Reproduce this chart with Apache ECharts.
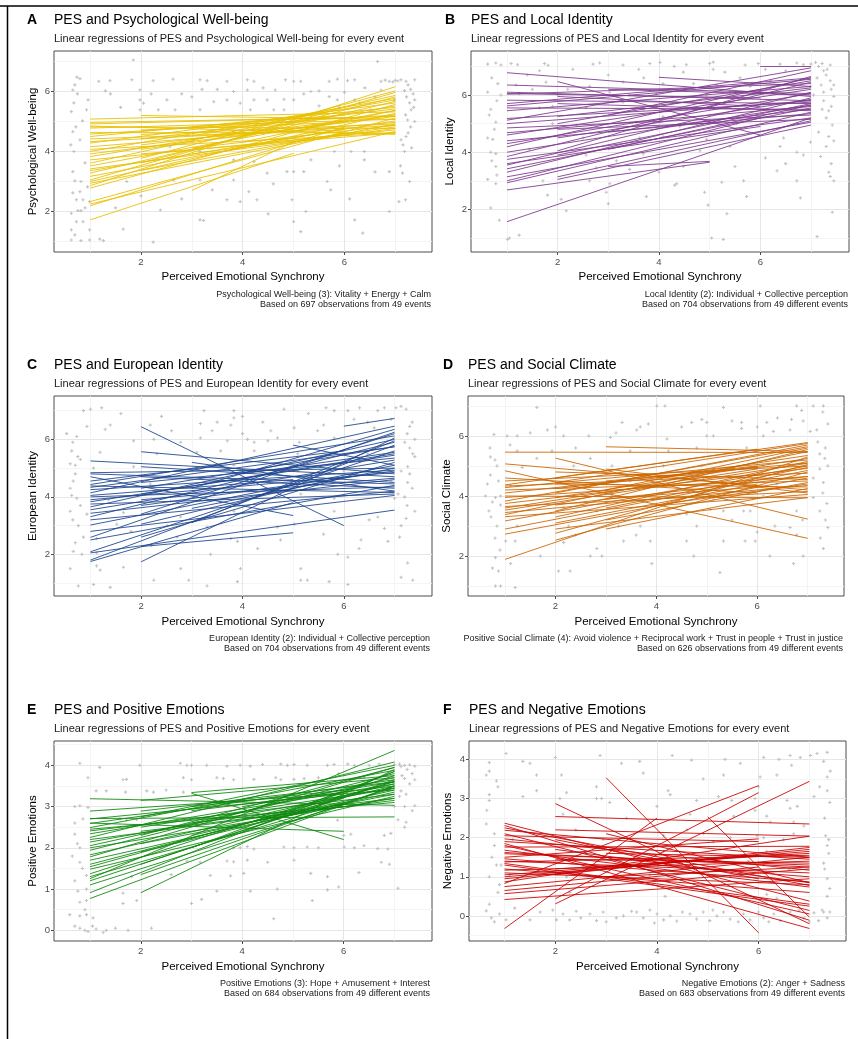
<!DOCTYPE html>
<html><head><meta charset="utf-8">
<script src="https://cdn.jsdelivr.net/npm/echarts@6/dist/echarts.min.js"></script>
<style>html,body{margin:0;padding:0;background:#fff}#c{width:858px;height:1039px}</style>
</head><body><div id="c"></div>
<script>
// ---------- tick values ----------
const xTicks = [2, 4, 6];
const xMinor = [1, 3, 5, 7];
const yTicks7 = [2, 4, 6];
const yMinor7 = [1, 3, 5, 7];
const yTicks4 = [0, 1, 2, 3, 4];
const yMinorE = [0.5, 1.5, 2.5, 3.5, 4.5];
const yMinorF = [-0.5, 0.5, 1.5, 2.5, 3.5];

// ---------- texts ----------
const letters = ['A', 'B', 'C', 'D', 'E', 'F'];
const titles = ['PES and Psychological Well-being', 'PES and Local Identity', 'PES and European Identity',
  'PES and Social Climate', 'PES and Positive Emotions', 'PES and Negative Emotions'];
const subtitles = ['Linear regressions of PES and Psychological Well-being for every event',
  'Linear regressions of PES and Local Identity for every event',
  'Linear regressions of PES and European Identity for every event',
  'Linear regressions of PES and Social Climate for every event',
  'Linear regressions of PES and Positive Emotions for every event',
  'Linear regressions of PES and Negative Emotions for every event'];
const yTitles = ['Psychological Well-being', 'Local Identity', 'European Identity', 'Social Climate',
  'Positive Emotions', 'Negative Emotions'];
const xTitle = 'Perceived Emotional Synchrony';
const captions1 = ['Psychological Well-being (3): Vitality + Energy + Calm',
  'Local Identity (2): Individual + Collective perception',
  'European Identity (2): Individual + Collective perception',
  'Positive Social Climate (4): Avoid violence + Reciprocal work + Trust in people + Trust in justice',
  'Positive Emotions (3): Hope + Amusement + Interest',
  'Negative Emotions (2): Anger + Sadness'];
const captions2 = ['Based on 697 observations from 49 events',
  'Based on 704 observations from 49 different events',
  'Based on 704 observations from 49 different events',
  'Based on 626 observations from 49 different events',
  'Based on 684 observations from 49 different events',
  'Based on 683 observations from 49 different events'];

// ---------- regression lines [x1, y1, x2, y2] ----------
const linesA = [[1,5.06,7,5.30],[1,4.83,7,4.55],[1,4.80,7,4.75],[1,4.76,7,5.05],[1,4.61,7,4.60],[1,4.56,7,5.20],
 [1,4.48,7,5.45],[1,4.31,7,4.85],[1,4.26,7,5.60],[1,4.14,7,4.95],[1,3.98,7,5.75],[1,3.90,7,5.15],[1,3.81,7,5.50],
 [1,3.70,7,4.70],[1,3.59,7,5.85],[1,3.50,7,5.35],[1,3.34,7,5.00],[1,3.26,7,5.65],[1,3.03,7,5.95],[1,2.98,7,5.25],
 [1,2.92,7,4.90],[1,2.84,7,6.14],[1,2.76,7,5.55],[1,2.31,7,5.10],[1,2.23,7,4.65],[1,2.17,6,4.80],[1,1.70,5,3.92],
 [2,5.18,7,5.05],[2,4.40,7,5.40],[2,4.20,6,5.00],[2,3.90,7,4.60],[2,3.60,7,5.80],[2,3.35,6,4.60],[3,2.68,5,4.30],
 [3,4.50,7,5.70],[3,4.10,7,4.85],[3,4.80,6,5.20],[2,4.70,6,4.95],[1,4.95,6,5.10],[1,4.40,6,4.70],[2,3.75,7,6.00],
 [1,3.15,6,4.75],[3,3.90,7,4.80],[2,4.05,7,5.20],[1,4.05,7,4.60],[2,4.55,7,4.90],[1,3.40,7,4.75],[1,4.90,7,5.15],
 [4,4.30,7,5.35]];
const linesB = [[1,6.78,7,5.95],[1,6.35,7,6.05],[1,6.10,7,5.80],[1,6.03,7,6.40],[1,5.82,7,5.70],[1,5.62,7,6.55],
 [1,5.55,7,5.50],[1,5.45,7,6.30],[1,5.18,7,5.75],[1,5.12,7,6.95],[1,4.68,7,5.60],[1,4.60,7,6.20],[1,4.40,7,5.35],
 [1,4.19,7,6.60],[1,4.00,7,5.65],[1,3.85,7,6.45],[1,3.75,7,5.20],[1,3.55,7,6.10],[1,3.42,7,5.55],[1,3.30,7,5.90],
 [1,3.14,7,5.05],[1,2.93,7,5.40],[1,2.68,5,3.65],[1,1.57,7,5.20],[2,6.47,6,4.60],[2,3.14,7,5.10],[2,3.05,7,4.95],
 [3,3.50,5,3.68],[4,6.62,7,6.30],[6,7.00,7,7.00],[2,5.70,7,5.45],[2,5.00,7,6.50],[2,4.50,7,5.85],[2,4.05,7,6.65],
 [1,4.85,7,5.30],[1,5.00,7,5.80],[3,5.30,7,6.85],[2,5.95,6,5.60],[1,3.00,6,5.20],[2,3.90,7,5.70],[1,6.05,6,5.90],
 [3,4.70,7,5.50],[1,4.30,7,6.05],[2,4.80,7,5.15],[1,5.70,7,6.60],[3,6.20,7,6.00],[2,5.25,7,6.25],[1,3.60,6,4.90],
 [3,4.10,7,5.65]];
const linesC = [[1,5.25,7,4.70],[1,4.84,7,5.00],[1,4.80,7,4.45],[1,4.43,7,6.12],[1,4.38,7,4.15],[1,4.33,7,5.74],
 [1,4.25,7,4.93],[1,4.14,7,6.46],[1,4.00,7,4.35],[1,3.83,7,5.45],[1,3.75,7,4.10],[1,3.65,7,6.00],[1,3.55,7,5.28],
 [1,3.43,7,4.60],[1,3.31,7,5.90],[1,3.20,7,4.20],[1,3.02,7,5.10],[1,2.59,7,6.25],[1,2.50,7,4.40],[1,2.09,7,5.60],
 [1,2.05,7,3.54],[1,1.80,7,5.80],[1,1.75,5,3.80],[2,6.44,6,3.00],[2,5.57,7,4.80],[2,1.74,7,6.05],[2,2.27,5,2.75],
 [6,6.46,7,6.73],[2,5.05,7,4.50],[2,4.10,7,5.50],[2,3.70,7,4.90],[2,3.40,7,6.20],[3,3.10,7,5.95],[2,2.60,7,5.20],
 [3,5.20,7,4.20],[5,5.80,7,5.10],[2,4.50,7,5.35],[1,4.55,6,5.60],[1,4.05,5,4.60],[2,3.05,6,4.70],[3,4.30,7,6.35],
 [1,3.90,7,4.85],[2,4.70,7,4.30],[3,3.60,7,5.00],[1,4.70,5,3.35],[2,3.90,7,4.65],[1,2.80,7,4.05],[2,4.30,7,5.75],
 [4,4.80,7,5.55]];
const linesD = [[1,5.46,7,5.45],[1,5.07,7,4.20],[1,4.84,7,2.59],[1,4.37,7,5.78],[1,4.33,7,4.76],[1,4.28,7,5.20],
 [1,4.20,7,4.50],[1,3.83,7,5.64],[1,3.75,7,4.92],[1,3.53,7,5.09],[1,3.45,7,4.35],[1,3.38,7,5.48],[1,3.31,7,4.05],
 [1,3.17,7,5.00],[1,2.73,7,4.60],[1,1.89,7,5.30],[2,5.26,7,3.23],[2,2.76,7,5.05],[2,2.53,7,4.80],[3,5.64,7,5.48],
 [2,4.60,6,5.56],[1,4.00,7,3.94],[2,4.10,7,5.70],[2,3.70,7,4.65],[2,3.30,7,5.15],[3,4.90,7,4.10],[3,3.60,7,4.95],
 [2,4.40,7,4.30],[1,3.60,6,4.90],[2,3.95,7,5.25],[3,4.20,7,5.60],[1,4.50,7,5.00],[2,3.10,6,4.40],[3,3.20,7,4.45],
 [1,4.10,6,5.00],[2,2.90,7,3.95],[4,4.60,7,5.35],[2,4.80,7,4.55],[1,3.95,7,4.65],[3,4.50,7,5.10],[2,3.50,7,5.55],
 [1,3.65,7,4.15],[3,3.90,6,4.30],[2,4.25,6,4.95],[1,2.90,7,4.85],[3,2.90,7,4.25],[2,4.45,7,5.75],[1,4.60,6,4.10],
 [4,3.70,7,4.40]];
const linesE = [[1,3.19,7,3.03],[1,2.89,7,3.40],[1,2.71,7,2.75],[1,2.59,7,3.65],[1,2.49,7,3.88],[1,2.41,7,3.30],
 [1,2.34,7,3.55],[1,2.25,7,4.08],[1,2.14,7,3.45],[1,2.05,7,3.70],[1,2.00,7,3.20],[1,1.94,7,3.80],[1,1.83,7,3.50],
 [1,1.78,7,3.95],[1,1.70,7,3.35],[1,1.54,7,3.60],[1,1.48,7,3.25],[1,1.37,7,3.75],[1,1.30,7,3.45],[1,1.25,7,4.36],
 [1,1.20,7,3.62],[1,0.91,7,3.85],[1,0.77,7,3.50],[2,3.15,7,3.70],[2,2.89,7,3.60],[2,0.91,7,3.90],[3,3.34,7,3.75],
 [3,3.32,6,2.20],[1,2.60,6,2.40],[2,2.30,7,3.95],[2,1.60,7,3.65],[2,2.10,7,3.30],[3,2.90,7,3.50],[3,2.00,7,3.85],
 [2,2.50,7,3.45],[1,2.70,6,3.30],[2,1.90,6,3.10],[3,2.60,7,3.20],[1,2.20,6,3.00],[4,3.00,7,3.60],[2,2.40,7,3.15],
 [3,2.30,7,3.40],[1,1.60,6,3.20],[4,2.70,7,3.55],[2,1.35,7,3.50],[1,2.45,7,3.10],[3,3.00,6,3.40],[2,2.75,7,4.00],
 [1,1.10,6,3.05]];
const linesF = [[1,2.37,7,0.38],[1,2.31,7,-0.11],[1,2.19,7,1.50],[1,2.10,7,0.14],[1,1.97,7,1.17],[1,1.85,7,-0.32],
 [1,1.76,7,1.78],[1,1.68,7,0.74],[1,1.59,7,1.30],[1,1.46,7,0.87],[1,1.38,7,1.55],[1,1.34,7,0.30],[1,1.17,7,1.40],
 [1,1.10,7,0.80],[1,1.00,7,1.65],[1,0.87,7,2.04],[1,0.83,6,3.33],[1,0.57,7,1.20],[1,0.42,7,0.95],[1,-0.32,4,2.50],
 [2,2.87,7,-0.20],[2,2.54,7,2.35],[2,0.44,6,3.15],[2,0.31,7,3.44],[3,3.53,6,-0.43],[5,2.53,7,-0.03],[1,1.50,6,1.97],
 [1,2.05,6,1.90],[2,2.20,7,2.04],[1,1.20,7,0.60],[1,1.62,7,1.25],[2,1.70,7,0.85],[1,0.95,7,1.70],[2,1.45,7,1.35],
 [1,1.80,7,0.05],[1,1.05,6,1.55],[3,1.60,7,1.50],[1,1.40,7,1.10],[2,1.20,7,1.60],[1,2.25,7,0.78],[3,1.00,7,1.25],
 [1,0.75,7,1.50],[2,1.95,6,0.95],[1,1.30,7,0.25],[3,2.10,7,0.85],[1,0.65,6,1.25],[2,1.05,7,1.75],[1,1.90,7,1.45],
 [4,1.30,7,1.00]];

// ---------- observations [x, y] ----------
const pointsA = [[0.74,6.46],[0.8,6.41],[1.17,6.32],[1.39,6.34],[1.85,7.03],[1.82,6.37],[2.24,6.34],[2.63,6.39],[3.16,6.37],
 [3.3,6.34],[3.69,6.32],[4.09,6.37],[4.22,6.32],[4.84,6.37],[5.0,6.32],[5.14,6.32],[5.7,6.32],[5.86,6.39],[6.06,6.34],
 [6.2,6.37],[6.65,6.98],[6.72,6.32],[6.88,6.32],[7.11,6.37],[7.21,6.32],[7.38,6.37],[7.0,6.35],[7.05,6.33],[6.8,6.36],
 [6.95,6.3],[0.66,6.03],[0.96,5.7],[1.98,6.03],[3.2,6.05],[3.82,5.98],[4.09,6.03],[4.64,6.03],[4.81,5.72],[5.34,5.98],
 [5.7,5.81],[5.86,5.7],[6.72,6.03],[7.18,6.01],[7.38,5.7],[0.63,5.31],[0.93,5.37],[1.98,5.37],[2.67,5.37],[3.16,5.37],
 [4.15,5.37],[4.81,5.37],[6.52,5.37],[7.31,5.37],[7.24,5.03],[7.38,4.98],[0.66,4.64],[0.8,4.37],[3.03,4.59],[3.82,4.64],
 [4.41,4.59],[6.45,4.59],[7.21,4.48],[0.68,3.98],[3.16,3.98],[3.82,3.7],[5.8,3.98],[6.13,3.98],[6.39,3.98],[7.18,3.98],
 [6.39,3.7],[5.34,3.7],[4.87,3.31],[5.0,3.31],[0.66,3.31],[0.82,2.98],[1.72,2.98],[3.16,3.03],[3.82,3.03],[5.2,3.31],
 [6.88,3.31],[7.14,3.26],[7.28,2.98],[5.66,2.98],[5.73,2.7],[0.8,2.64],[0.86,2.37],[0.99,2.31],[3.69,2.37],[3.95,2.31],
 [4.28,2.37],[4.97,2.37],[7.07,2.31],[7.2,2.37],[2.38,2.03],[0.63,1.92],[0.76,2.01],[0.82,2.01],[3.16,1.7],[3.23,1.68],
 [5.24,1.98],[6.88,1.98],[5.0,1.64],[0.73,1.64],[0.86,1.64],[0.63,1.37],[0.99,1.37],[1.65,1.39],[5.14,1.31],[6.36,1.26],
 [0.63,1.03],[0.82,1.01],[0.99,1.03],[1.19,1.06],[1.26,1.01],[2.24,0.96],[1.98,5.7],[2.05,5.59],[2.34,5.37],[2.51,5.7],
 [3.43,5.64],[3.69,5.7],[3.95,5.59],[4.22,5.7],[4.48,5.7],[4.61,5.37],[5.0,5.7],[6.2,5.7],[6.98,5.7],[3.03,4.37],
 [7.11,4.37],[2.57,4.14],[4.22,3.64],[2.64,3.03],[4.48,3.26],[4.12,2.64],[0.73,2.37],
 [7.25,6.2],[7.3,6.05],[7.35,5.9],[7.22,5.8],[7.28,5.6],[7.36,5.45],[7.2,5.2],[7.3,4.8],[7.25,4.6],[7.15,4.2],
 [7.32,4.1],[7.1,3.5],[0.7,6.2],[0.75,5.9],[0.68,5.6],[0.85,5.0],[0.72,4.8],[0.62,4.2],[0.9,3.6],[0.7,3.0],
 [0.95,2.8],[0.66,2.6],[0.9,2.1],[0.7,1.2],[1.4,5.9],[1.6,5.45],[1.3,6.0],[2.2,5.9],[2.8,5.9],[3.0,5.8],[3.5,6.05],
 [4.4,6.1],[5.2,5.9],[5.5,6.0],[6.0,5.95],[6.4,6.1],[6.6,5.8],[5.5,5.5],[5.9,5.45],[6.3,5.6],[2.8,2.4],[3.4,2.7],
 [4.6,2.9],[5.9,3.5],[6.6,3.3],[6.1,2.4],[2.0,2.5],[1.5,2.1],[4.5,1.9],[6.2,1.7]];
const pointsB = [[0.62,7.08],[0.78,7.12],[0.88,7.05],[1.08,7.1],[1.21,7.06],[1.74,7.1],[1.81,7.04],[2.7,7.08],[2.83,7.12],
 [3.29,7.05],[3.82,7.1],[4.02,7.14],[4.54,7.06],[5.0,7.1],[5.07,7.15],[5.7,7.05],[5.96,7.1],[6.39,7.08],[6.72,7.12],
 [6.85,7.06],[7.09,7.14],[7.22,7.1],[7.38,7.05],[7.0,7.08],[7.15,7.0],[7.25,6.85],[7.32,6.9],[4.48,6.8],[5.07,6.9],
 [1.64,6.85],[0.82,6.4],[1.18,6.35],[1.77,6.45],[2.63,6.3],[3.29,6.45],[4.08,6.4],[4.68,6.4],[5.14,6.35],[6.99,6.3],
 [7.45,6.35],[0.62,6.1],[0.88,6.0],[1.24,6.05],[2.0,6.0],[3.03,6.1],[3.42,6.0],[3.95,6.05],[4.94,6.0],[5.4,6.1],
 [6.06,6.05],[7.05,6.0],[7.25,6.1],[7.45,5.95],[0.68,5.5],[1.64,5.55],[2.56,5.55],[3.69,5.5],[4.54,5.5],[5.07,5.55],
 [6.06,5.5],[7.22,5.5],[7.35,5.45],[0.78,5.05],[1.9,5.0],[3.55,5.05],[4.74,5.0],[5.53,5.0],[6.72,5.0],[7.42,4.95],
 [0.62,4.5],[0.72,4.45],[2.5,4.5],[3.62,4.5],[4.08,4.55],[4.94,4.45],[6.46,4.5],[7.35,4.55],[7.45,4.4],[0.68,4.0],
 [0.78,3.95],[3.69,3.95],[4.81,4.05],[6.72,4.0],[6.85,3.9],[7.19,3.85],[0.78,3.5],[2.76,3.45],[3.42,3.4],[4.48,3.5],
 [6.33,3.35],[7.38,3.15],[7.45,3.0],[0.62,3.05],[0.78,2.9],[1.71,3.0],[2.63,3.0],[3.03,2.9],[4.35,2.9],[5.24,2.95],
 [5.67,3.0],[6.72,3.0],[2.96,2.6],[3.75,2.45],[4.31,2.85],[5.73,2.45],[6.79,2.4],[2.07,2.35],[0.68,2.05],[2.17,1.95],
 [5.34,1.85],[4.97,2.15],[7.42,1.9],[0.85,1.62],[1.24,1.1],[1.01,0.95],[5.04,1.0],[5.27,0.95],[7.12,1.05],[1.05,1.0],
 [4.08,5.25],[4.41,4.9],[5.4,4.2],[6.39,4.2],[6.99,4.35],[7.25,5.8],[7.38,6.5],[7.12,6.6],[3.29,5.75],[2.37,4.95],
 [2.56,3.9],[3.16,3.7],[1.44,4.1],[1.9,5.6],
 [7.3,6.7],[7.4,6.2],[7.2,6.35],[7.3,5.2],[7.4,5.6],[7.15,4.7],[7.3,4.2],[7.4,3.6],[7.35,3.3],[0.7,6.6],[0.8,5.8],
 [0.65,5.3],[0.75,4.8],[0.7,3.7],[0.8,3.2],[1.4,6.7],[2.3,6.9],[3.0,6.7],[3.6,6.9],[4.3,7.0],[5.3,6.8],[5.6,6.6],
 [6.1,6.9],[6.5,6.85],[5.8,6.3],[6.2,6.5],[2.2,6.2],[3.7,6.6],[1.5,6.2],[4.0,3.3],[4.9,2.6],[5.5,3.5],[6.1,3.8],
 [6.5,3.6],[3.0,2.2],[1.8,2.5]];
const pointsC = [[0.86,7.0],[1.0,7.05],[1.22,7.1],[3.24,7.0],[3.83,7.0],[4.82,7.05],[5.65,7.1],[5.81,7.0],[6.08,7.0],
 [6.31,7.1],[6.67,7.0],[6.8,7.1],[7.03,7.1],[7.13,7.15],[7.23,7.05],[0.53,6.2],[0.93,6.45],[1.29,6.35],[1.39,6.5],
 [2.18,6.5],[3.17,6.55],[3.77,6.5],[3.83,6.75],[4.56,6.3],[5.02,6.4],[5.48,6.3],[6.47,6.6],[6.93,6.7],[7.3,6.45],
 [7.4,6.0],[0.73,6.1],[1.85,5.95],[2.25,6.0],[2.78,5.9],[3.17,6.05],[3.7,5.95],[4.1,6.0],[4.23,5.9],[4.69,6.05],
 [5.12,5.9],[5.81,6.05],[7.2,5.9],[7.3,5.7],[0.63,5.6],[0.8,5.3],[1.19,5.55],[2.31,5.5],[3.1,5.55],[3.57,5.6],
 [4.23,5.6],[5.09,5.5],[5.81,5.5],[6.47,5.5],[7.36,5.5],[0.6,5.15],[0.7,5.1],[1.06,5.0],[1.85,5.05],[3.83,5.1],
 [5.09,4.9],[6.0,4.9],[7.13,4.9],[7.26,5.05],[0.66,4.55],[2.18,4.45],[4.23,4.5],[6.93,4.55],[7.26,4.5],[7.07,4.1],
 [7.2,4.0],[0.63,4.05],[0.73,3.95],[1.36,3.9],[2.58,3.85],[3.57,3.8],[5.15,4.1],[5.81,3.95],[7.0,3.95],[0.6,3.5],
 [0.93,3.4],[1.65,3.45],[2.78,3.3],[3.83,3.5],[5.81,3.5],[6.67,3.3],[7.23,3.25],[0.76,3.0],[1.52,3.05],[2.51,3.0],
 [3.3,2.95],[4.69,2.95],[5.02,3.05],[6.8,2.9],[7.13,3.0],[0.86,2.6],[1.12,2.55],[2.71,2.6],[3.77,2.55],[3.9,2.45],
 [4.75,2.5],[6.34,2.5],[6.87,2.45],[0.66,2.1],[0.83,2.0],[1.12,2.05],[3.37,2.0],[5.88,2.0],[6.08,1.9],[7.26,1.7],
 [1.12,1.6],[1.19,1.45],[1.65,1.55],[2.78,1.5],[3.96,1.5],[5.15,1.5],[7.13,1.2],[7.36,1.1],[0.76,0.9],[1.06,0.95],
 [1.39,0.85],[2.25,1.1],[2.94,1.1],[3.3,0.9],[3.9,1.05],[5.15,1.1],[5.28,1.1],[5.71,1.05],[6.08,0.95],
 [7.35,6.6],[7.25,6.2],[7.4,5.4],[7.3,4.8],[7.35,4.3],[7.25,3.7],[7.4,3.5],[7.1,2.6],[0.65,5.9],[0.75,5.4],
 [0.7,4.8],[0.6,4.3],[0.8,3.7],[0.65,3.2],[0.7,2.4],[0.6,1.5],[1.6,6.9],[2.4,6.8],[3.5,6.6],[4.0,6.8],[4.4,6.6],
 [5.3,6.9],[6.2,6.7],[6.6,6.4],[5.6,6.5],[4.0,6.2],[4.5,5.95],[3.4,6.3],[2.6,6.3],[6.3,2.2],[5.6,2.7],[4.3,2.2],
 [2.2,2.3],[1.8,2.8],[6.5,3.2]];
const pointsD = [[1.63,6.95],[4.01,7.0],[4.17,7.0],[5.33,6.95],[6.06,7.0],[6.78,7.0],[6.88,6.85],[7.11,7.0],[7.31,7.0],
 [1.84,6.2],[3.32,6.45],[3.68,6.3],[3.84,6.4],[4.7,6.45],[5.0,6.45],[5.69,6.45],[6.19,6.45],[6.91,6.5],[6.68,6.55],
 [0.78,6.05],[1.04,6.0],[1.24,6.0],[2.16,6.0],[2.66,6.0],[3.09,5.95],[3.61,6.2],[4.21,5.9],[5.0,6.0],[5.13,6.0],
 [5.69,6.25],[6.12,6.0],[6.32,6.15],[6.65,6.2],[7.05,6.15],[7.18,6.2],[0.71,5.3],[1.24,5.5],[1.63,5.25],[1.93,5.5],
 [2.69,5.25],[3.48,5.5],[4.24,5.5],[4.8,5.6],[5.79,5.6],[7.24,5.4],[7.34,5.25],[0.84,5.0],[1.34,4.95],[2.36,5.0],
 [3.12,5.0],[4.14,5.0],[4.9,5.0],[6.12,5.0],[7.24,4.9],[0.71,4.7],[0.87,4.5],[1.11,4.35],[3.48,4.5],[4.93,4.55],
 [6.39,4.4],[7.11,4.6],[7.31,4.45],[0.61,4.0],[0.81,3.95],[0.91,4.0],[3.12,4.0],[5.13,3.9],[6.12,4.0],[7.11,3.95],
 [7.38,3.75],[0.68,3.5],[0.91,3.7],[2.16,3.6],[2.82,3.5],[5.07,3.55],[5.33,3.5],[5.73,3.5],[5.86,3.5],[6.78,3.5],
 [7.24,3.5],[0.84,3.0],[1.24,3.0],[2.26,3.0],[3.25,3.0],[3.68,3.0],[4.8,3.0],[6.35,3.0],[6.65,2.95],[7.4,2.95],
 [1.01,2.5],[1.2,2.5],[2.16,2.45],[2.82,2.25],[3.35,2.5],[3.88,2.5],[4.6,2.5],[5.33,2.5],[5.76,2.5],[5.96,2.5],
 [6.78,2.7],[7.31,2.25],[0.81,1.95],[1.7,2.0],[2.69,2.0],[2.92,2.0],[4.74,2.0],[6.25,2.0],[6.72,1.75],[6.91,2.0],
 [0.87,1.5],[1.11,1.75],[2.06,1.5],[2.29,1.5],[3.91,1.75],[5.26,1.45],[0.81,1.0],[0.91,1.0],[1.2,0.95],
 [7.3,6.8],[7.4,6.4],[7.2,5.8],[7.35,5.6],[7.4,5.0],[7.3,4.1],[7.35,3.2],[7.25,2.6],[0.7,5.6],[0.8,5.2],
 [0.65,4.4],[0.75,3.8],[0.72,3.3],[0.8,2.6],[0.9,2.2],[0.75,1.6],[1.5,6.1],[2.0,6.3],[3.2,6.1],[4.5,6.3],[5.5,6.5],
 [6.4,6.6],[6.0,6.3],[4.9,6.55],[1.1,5.7],[2.4,5.6],[5.5,3.2],[4.6,3.4],[6.0,2.8],[3.6,2.7],[2.4,2.7],[6.9,3.2]];
const pointsE = [[0.8,4.05],[1.98,4.0],[2.78,4.05],[2.91,4.0],[3.3,4.0],[3.7,3.98],[3.96,4.0],[4.16,3.98],[4.76,4.03],
 [4.89,4.0],[5.02,4.02],[5.28,4.0],[5.68,4.0],[5.81,4.02],[6.08,4.03],[6.21,4.0],[7.0,4.02],[7.1,4.03],[7.2,4.0],
 [7.3,4.01],[7.4,3.98],[7.13,3.97],[1.19,3.95],[0.96,3.7],[1.65,3.65],[1.72,3.66],[2.84,3.7],[3.0,3.65],[3.63,3.68],
 [3.83,3.65],[4.23,3.66],[4.66,3.7],[4.76,3.65],[5.02,3.66],[5.22,3.68],[7.2,3.68],[7.4,3.65],[1.12,3.38],[1.32,3.38],
 [2.12,3.38],[2.25,3.35],[2.84,3.35],[7.13,3.38],[7.23,3.3],[0.7,3.0],[0.8,3.02],[0.96,2.98],[7.0,3.0],[7.2,3.0],
 [7.4,3.02],[0.86,2.7],[1.59,2.7],[1.72,2.67],[1.92,2.68],[5.88,2.67],[7.07,2.68],[7.23,2.62],[0.7,2.33],[6.14,2.33],
 [6.8,2.3],[6.93,2.35],[0.8,2.0],[3.83,2.0],[3.96,2.0],[4.1,2.03],[4.23,1.97],[4.82,2.02],[5.02,2.0],[5.28,2.02],
 [6.01,2.02],[6.21,2.0],[6.87,1.97],[6.67,1.98],[0.8,1.65],[2.91,1.68],[3.17,1.65],[3.7,1.68],[3.83,1.66],[4.1,1.7],
 [5.02,1.7],[6.74,1.65],[6.9,1.6],[0.93,1.33],[3.37,1.33],[3.77,1.32],[4.03,1.38],[5.35,1.38],[5.68,1.3],[1.82,1.3],
 [0.76,0.95],[0.93,1.0],[4.69,1.0],[5.68,0.98],[7.07,1.02],[4.16,0.95],[1.65,0.9],[0.8,0.68],[1.92,0.72],[0.93,0.72],
 [3.0,0.65],[3.2,0.75],[5.38,0.72],[1.65,0.65],[0.6,0.38],[0.8,0.35],[0.93,0.38],[1.06,0.3],[4.62,0.28],[0.8,0.05],
 [0.9,0.0],[1.12,0.03],[1.32,0.0],[1.75,0.0],[2.21,0.05],[0.96,-0.03],[1.26,-0.05],
 [7.25,3.9],[7.35,3.8],[7.15,3.75],[7.3,3.55],[7.1,3.25],[7.35,2.9],[7.2,2.5],[0.7,2.6],[0.75,2.1],[0.65,1.8],
 [0.85,1.5],[0.7,1.2],[0.9,0.5],[0.7,0.1],[1.05,0.1],[1.5,0.05],[1.7,3.35],[2.5,3.4],[3.0,4.0],[3.5,3.7],[4.4,4.02],
 [5.5,3.7],[6.5,4.0],[6.7,4.03],[6.4,3.7],[5.9,3.8],[6.0,2.3],[6.4,2.05],[5.5,2.0],[4.5,1.65],[2.6,1.35],[3.5,0.95],
 [5.9,1.05],[6.3,1.4],[2.4,2.0]];
const pointsF = [[0.7,3.92],[1.03,4.15],[1.36,3.95],[2.88,4.1],[3.66,3.95],[4.68,3.98],[5.34,4.0],[5.64,3.9],[6.1,4.05],
 [6.62,4.1],[6.82,4.05],[7.02,4.1],[7.15,4.15],[7.35,4.18],[7.28,3.95],[6.65,3.85],[0.64,3.6],[0.7,3.7],[0.84,3.45],
 [1.63,3.6],[2.12,3.6],[2.81,3.3],[3.73,3.65],[4.91,3.5],[5.31,3.6],[6.03,3.55],[6.36,3.6],[7.35,3.55],[7.41,3.7],
 [0.87,3.3],[1.36,3.05],[1.63,3.2],[2.22,3.15],[2.81,3.0],[4.22,3.2],[4.26,3.1],[4.78,2.95],[5.21,3.05],[5.47,2.95],
 [6.56,2.95],[7.09,3.05],[7.35,3.2],[0.7,2.95],[2.09,3.0],[2.91,3.0],[3.07,2.9],[5.93,3.0],[6.62,2.75],[6.76,2.8],
 [0.64,2.35],[2.15,2.6],[4.65,2.6],[5.51,2.55],[5.93,2.7],[6.16,2.55],[6.23,2.4],[6.69,2.4],[6.89,2.3],[7.32,2.05],
 [0.8,2.1],[1.16,1.95],[2.94,1.95],[4.13,2.05],[4.59,2.2],[4.91,2.1],[5.11,1.9],[5.44,2.0],[5.97,2.05],[6.1,2.0],
 [6.49,1.95],[6.69,2.1],[7.38,1.95],[7.35,1.8],[2.61,1.6],[4.13,1.65],[5.24,1.7],[6.16,1.65],[6.76,1.55],[7.38,1.6],
 [0.84,1.3],[0.93,1.3],[2.55,1.25],[3.34,1.3],[6.1,1.3],[7.28,1.35],[0.7,1.0],[1.1,1.05],[2.22,1.0],[3.86,1.05],
 [5.44,1.0],[7.35,0.95],[0.87,0.6],[2.28,0.6],[4.16,0.5],[6.16,0.55],[6.36,0.45],[7.35,0.5],[0.64,0.13],[0.74,-0.05],
 [0.8,-0.15],[0.9,0.05],[1.03,-0.1],[1.95,0.15],[2.02,-0.1],[2.15,0.05],[2.28,-0.1],[2.41,0.12],[2.68,0.05],[2.81,-0.12],
 [2.94,0.1],[3.2,-0.05],[3.34,0.0],[3.6,0.1],[3.73,-0.05],[3.86,0.15],[4.0,0.05],[4.13,-0.1],[4.26,0.0],[4.39,-0.13],
 [4.65,0.05],[4.78,-0.08],[4.91,0.1],[5.04,-0.12],[5.18,0.0],[5.31,0.1],[5.44,-0.08],[5.7,0.05],[5.83,-0.1],[6.0,0.1],
 [6.1,-0.05],[6.3,0.05],[6.43,-0.12],[6.62,0.1],[6.89,-0.05],[7.09,0.08],[7.18,-0.12],[7.28,0.1],[7.35,-0.05],[7.25,0.15],
 [0.7,3.1],[0.65,2.7],[0.8,1.8],[0.75,1.5],[0.9,0.8],[0.7,0.3],[1.2,0.2],[1.5,-0.1],[1.7,0.1],[2.5,-0.05],[3.0,-0.15],
 [3.5,0.12],[3.95,-0.18],[4.5,0.1],[5.1,0.15],[5.6,-0.15],[6.2,-0.15],[6.8,0.15],[7.0,-0.15],[7.4,0.1],[7.3,2.5],
 [7.4,2.9],[7.2,3.3],[7.3,1.2],[7.4,0.7],[1.5,3.9],[2.0,4.05],[3.3,3.9],[4.3,4.1],[6.4,4.0],[6.0,3.3],[4.0,2.8],
 [3.4,2.5],[2.4,2.2],[5.8,1.4],[6.6,1.2]];

// ---------- layout (positions / styles) ----------
const panels = [
  {lines: linesA, pts: pointsA, color: '#E8C000', grid: {left: 54, top: 51, width: 378, height: 201}, xr: [0.29, 7.72], yr: [0.63, 7.33], yt: yTicks7, ym: yMinor7, lx: 27, tx: 54, ty: 20, sy: 39, ytx: 33, xty: 277, cr: 431, cy: 295},
  {lines: linesB, pts: pointsB, color: '#7E3A8E', grid: {left: 471, top: 51, width: 378, height: 201}, xr: [0.29, 7.75], yr: [0.51, 7.54], yt: yTicks7, ym: yMinor7, lx: 445, tx: 471, ty: 20, sy: 39, ytx: 450, xty: 277, cr: 848, cy: 295},
  {lines: linesC, pts: pointsC, color: '#1F4690', grid: {left: 54, top: 396, width: 378, height: 200}, xr: [0.28, 7.74], yr: [0.55, 7.51], yt: yTicks7, ym: yMinor7, lx: 27, tx: 54, ty: 365, sy: 384, ytx: 33, xty: 622, cr: 430, cy: 639},
  {lines: linesD, pts: pointsD, color: '#CC6600', grid: {left: 468, top: 396, width: 376, height: 200}, xr: [0.265, 7.72], yr: [0.67, 7.33], yt: yTicks7, ym: yMinor7, lx: 443, tx: 468, ty: 365, sy: 384, ytx: 447, xty: 622, cr: 843, cy: 639},
  {lines: linesE, pts: pointsE, color: '#0E8A0E', grid: {left: 54, top: 741, width: 378, height: 200}, xr: [0.29, 7.74], yr: [-0.26, 4.59], yt: yTicks4, ym: yMinorE, lx: 27, tx: 54, ty: 710, sy: 729, ytx: 33, xty: 967, cr: 430, cy: 984},
  {lines: linesF, pts: pointsF, color: '#CC0000', grid: {left: 469, top: 741, width: 377, height: 200}, xr: [0.30, 7.72], yr: [-0.64, 4.47], yt: yTicks4, ym: yMinorF, lx: 443, tx: 469, ty: 710, sy: 729, ytx: 448, xty: 967, cr: 845, cy: 984}
];

const FONT = '"Liberation Sans", Arial, sans-serif';
const PLUS = 'path://M1,0H2V1H3V2H2V3H1V2H0V1H1Z';
const grids = [], xAxes = [], yAxes = [], series = [], graphics = [];

function txt(x, y, text, size, opts) {
  opts = opts || {};
  graphics.push({
    type: 'text', x: x, y: y, rotation: opts.rot || 0, silent: true,
    style: {text: text, fill: opts.color || '#000', font: (opts.bold ? 'bold ' : '') + size + 'px ' + FONT,
      align: opts.align || 'left', verticalAlign: 'middle', textAlign: opts.align || 'left', textVerticalAlign: 'middle'}
  });
}

panels.forEach(function (p, i) {
  grids.push(Object.assign({show: true, borderColor: '#4d4d4d', borderWidth: 1, backgroundColor: '#fff', containLabel: false}, p.grid));
  const majorGrid = {show: true, lineStyle: {color: '#e6e6e6', width: 1}};
  const minorGrid = {show: true, lineStyle: {color: '#f1f1f1', width: 0.8}};
  xAxes.push({type: 'value', gridIndex: i, min: p.xr[0], max: p.xr[1], position: 'bottom',
    axisLine: {show: false, onZero: false}, axisTick: {show: true, length: 3, customValues: xTicks, lineStyle: {color: '#4d4d4d'}},
    axisLabel: {customValues: xTicks, color: '#4d4d4d', fontSize: 9.5, fontFamily: FONT, margin: 5},
    splitLine: majorGrid});
  xAxes.push({type: 'value', gridIndex: i, min: p.xr[0], max: p.xr[1], position: 'bottom',
    axisLine: {show: false, onZero: false}, axisTick: {show: false, customValues: xMinor}, axisLabel: {show: false, customValues: xMinor},
    splitLine: minorGrid});
  yAxes.push({type: 'value', gridIndex: i, min: p.yr[0], max: p.yr[1], position: 'left',
    axisLine: {show: false, onZero: false}, axisTick: {show: true, length: 3, customValues: p.yt, lineStyle: {color: '#4d4d4d'}},
    axisLabel: {customValues: p.yt, color: '#4d4d4d', fontSize: 9.5, fontFamily: FONT, margin: 4},
    splitLine: majorGrid});
  yAxes.push({type: 'value', gridIndex: i, min: p.yr[0], max: p.yr[1], position: 'left',
    axisLine: {show: false, onZero: false}, axisTick: {show: false, customValues: p.ym}, axisLabel: {show: false, customValues: p.ym},
    splitLine: minorGrid});

  series.push({type: 'scatter', xAxisIndex: 2 * i, yAxisIndex: 2 * i, data: p.pts, symbol: PLUS, symbolSize: 3.2,
    itemStyle: {color: '#b8b8b8', opacity: 0.85}, silent: true, z: 2});
  series.push({type: 'lines', coordinateSystem: 'cartesian2d', xAxisIndex: 2 * i, yAxisIndex: 2 * i, polyline: false,
    data: p.lines.map(function (l) { return {coords: [[l[0], l[1]], [l[2], l[3]]]}; }),
    lineStyle: {color: p.color, width: 1, opacity: 0.88, curveness: 0}, silent: true, z: 3});

  const g = p.grid;
  txt(p.lx, p.ty, letters[i], 14, {bold: true});
  txt(p.tx, p.ty, titles[i], 14);
  txt(p.tx, p.sy, subtitles[i], 11, {color: '#1a1a1a'});
  txt(g.left + g.width / 2, p.xty, xTitle, 11.5, {align: 'center'});
  txt(p.ytx, g.top + g.height / 2, yTitles[i], 11.5, {align: 'center', rot: Math.PI / 2});
  txt(p.cr, p.cy, captions1[i], 9, {align: 'right', color: '#1a1a1a'});
  txt(p.cr, p.cy + 10, captions2[i], 9, {align: 'right', color: '#1a1a1a'});
});

// outer frame lines of the figure
graphics.push({type: 'line', silent: true, shape: {x1: 0, y1: 6, x2: 858, y2: 6}, style: {stroke: '#000', lineWidth: 1.5}});
graphics.push({type: 'line', silent: true, shape: {x1: 7.5, y1: 6, x2: 7.5, y2: 1039}, style: {stroke: '#000', lineWidth: 1.5}});

const chart = echarts.init(document.getElementById('c'), null, {renderer: 'canvas'});
chart.setOption({
  animation: false,
  backgroundColor: '#fff',
  grid: grids, xAxis: xAxes, yAxis: yAxes, series: series,
  graphic: {elements: graphics}
});
</script></body></html>
